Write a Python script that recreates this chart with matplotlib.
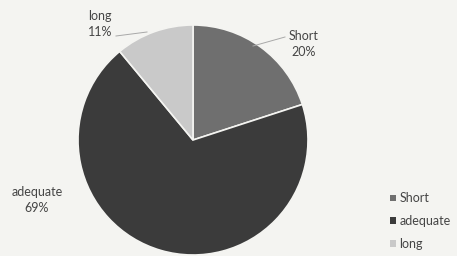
import matplotlib
matplotlib.use('Agg')
import matplotlib.pyplot as plt
from matplotlib.patches import Patch

labels = ["Short", "adequate", "long"]
shares = [20, 69, 11]
colors = ["#6f6f6f", "#3b3b3b", "#c9c9c9"]

plt.rcParams['font.family'] = ['Lato', 'DejaVu Sans']

H = 256
fig = plt.figure(figsize=(4.57, 2.56), dpi=100)
fig.patch.set_facecolor("#f4f4f1")
ax = fig.add_axes([0, 0, 1, 1])

wedges, _ = ax.pie(shares, colors=colors, startangle=90, counterclock=False,
                   center=(193, H - 140), radius=115,
                   wedgeprops={"edgecolor": "#f4f4f1", "linewidth": 1.2})
ax.set_xlim(0, 457)
ax.set_ylim(0, H)
ax.set_aspect('equal')
ax.axis('off')

txt = dict(fontsize=9, color="#454545", ha="center", va="center", linespacing=1.3)
ax.text(100, H - 24, f"long\n{shares[2]}%", **txt)
ax.text(304, H - 44, f"Short\n{shares[0]}%", **txt)
ax.text(37, H - 200, f"adequate\n{shares[1]}%", **txt)
ax.plot([116, 147], [H - 36, H - 32], color="#a8a8a8", lw=0.7)
ax.plot([253, 285], [H - 46, H - 37], color="#a8a8a8", lw=0.7)

handles = [Patch(facecolor=c, edgecolor="none") for c in colors]
ax.legend(handles, labels, loc="lower right", bbox_to_anchor=(1.0, 0.0),
          frameon=False, fontsize=9, handlelength=0.45, handleheight=0.45,
          handletextpad=0.3, labelspacing=0.85, labelcolor="#454545",
          borderaxespad=0.1)

fig.savefig("out.png", dpi=100, facecolor=fig.get_facecolor())
